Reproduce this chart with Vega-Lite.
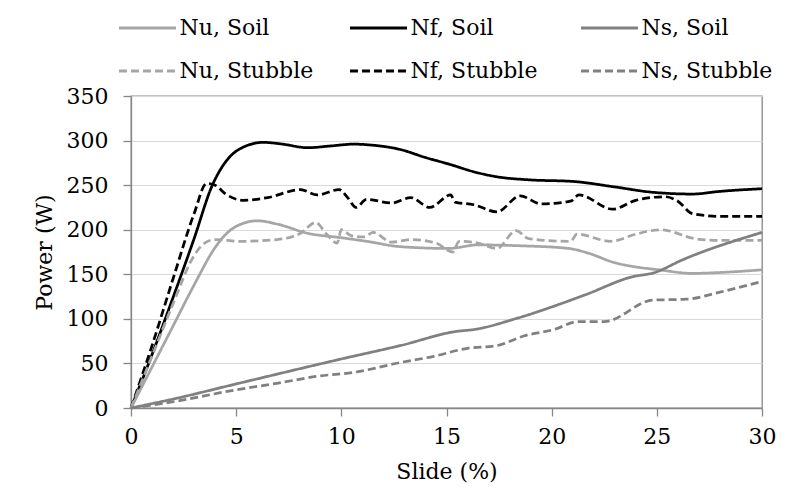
{
  "$schema": "https://vega.github.io/schema/vega-lite/v6.json",
  "width": 631,
  "height": 312,
  "autosize": {"type": "none"},
  "padding": {"left": 131, "top": 96, "right": 24, "bottom": 85},
  "background": "#ffffff",
  "config": {
    "font": "DejaVu Serif",
    "view": {"stroke": "#868686", "strokeWidth": 1.3},
    "axis": {
      "labelFont": "DejaVu Serif",
      "titleFont": "DejaVu Serif",
      "labelFontSize": 22,
      "titleFontSize": 22,
      "labelColor": "#000000",
      "titleColor": "#000000",
      "titleFontWeight": "normal",
      "domainColor": "#868686",
      "domainWidth": 1.3,
      "tickColor": "#868686",
      "tickWidth": 1.3,
      "tickSize": 8,
      "gridColor": "#d9d9d9",
      "gridWidth": 1.2
    },
    "legend": {
      "labelFont": "DejaVu Serif",
      "labelFontSize": 22,
      "labelColor": "#000000"
    }
  },
  "data": {
    "values": [
      {"series": "Nf, Soil", "slide": 0, "power": 0},
      {"series": "Nf, Soil", "slide": 1, "power": 60},
      {"series": "Nf, Soil", "slide": 2, "power": 124},
      {"series": "Nf, Soil", "slide": 3, "power": 190},
      {"series": "Nf, Soil", "slide": 3.85, "power": 249},
      {"series": "Nf, Soil", "slide": 4.56, "power": 278},
      {"series": "Nf, Soil", "slide": 5.2, "power": 291},
      {"series": "Nf, Soil", "slide": 6.3, "power": 298},
      {"series": "Nf, Soil", "slide": 7.2, "power": 296},
      {"series": "Nf, Soil", "slide": 8.4, "power": 292},
      {"series": "Nf, Soil", "slide": 9.5, "power": 294},
      {"series": "Nf, Soil", "slide": 10.6, "power": 296},
      {"series": "Nf, Soil", "slide": 11.4, "power": 295},
      {"series": "Nf, Soil", "slide": 12.8, "power": 290},
      {"series": "Nf, Soil", "slide": 14, "power": 281},
      {"series": "Nf, Soil", "slide": 15.2, "power": 273},
      {"series": "Nf, Soil", "slide": 16.3, "power": 265},
      {"series": "Nf, Soil", "slide": 17.5, "power": 259},
      {"series": "Nf, Soil", "slide": 18.9, "power": 256},
      {"series": "Nf, Soil", "slide": 21.1, "power": 254},
      {"series": "Nf, Soil", "slide": 23, "power": 248},
      {"series": "Nf, Soil", "slide": 24.8, "power": 242},
      {"series": "Nf, Soil", "slide": 26.7, "power": 240},
      {"series": "Nf, Soil", "slide": 28, "power": 243},
      {"series": "Nf, Soil", "slide": 30, "power": 246},

      {"series": "Nf, Stubble", "slide": 0, "power": 0},
      {"series": "Nf, Stubble", "slide": 1, "power": 70},
      {"series": "Nf, Stubble", "slide": 2, "power": 145},
      {"series": "Nf, Stubble", "slide": 3, "power": 218},
      {"series": "Nf, Stubble", "slide": 3.6, "power": 252},
      {"series": "Nf, Stubble", "slide": 4, "power": 250},
      {"series": "Nf, Stubble", "slide": 4.5, "power": 240},
      {"series": "Nf, Stubble", "slide": 5.36, "power": 233},
      {"series": "Nf, Stubble", "slide": 6.5, "power": 236},
      {"series": "Nf, Stubble", "slide": 8.06, "power": 245},
      {"series": "Nf, Stubble", "slide": 8.86, "power": 239},
      {"series": "Nf, Stubble", "slide": 9.9, "power": 245},
      {"series": "Nf, Stubble", "slide": 10.3, "power": 236},
      {"series": "Nf, Stubble", "slide": 10.7, "power": 225},
      {"series": "Nf, Stubble", "slide": 11.2, "power": 234},
      {"series": "Nf, Stubble", "slide": 12.4, "power": 230},
      {"series": "Nf, Stubble", "slide": 13.3, "power": 236},
      {"series": "Nf, Stubble", "slide": 14.2, "power": 225},
      {"series": "Nf, Stubble", "slide": 15.2, "power": 239},
      {"series": "Nf, Stubble", "slide": 15.4, "power": 231},
      {"series": "Nf, Stubble", "slide": 16.3, "power": 228},
      {"series": "Nf, Stubble", "slide": 17.4, "power": 220},
      {"series": "Nf, Stubble", "slide": 18.5, "power": 238},
      {"series": "Nf, Stubble", "slide": 19.5, "power": 229},
      {"series": "Nf, Stubble", "slide": 20.9, "power": 232},
      {"series": "Nf, Stubble", "slide": 21.3, "power": 239},
      {"series": "Nf, Stubble", "slide": 22.9, "power": 223},
      {"series": "Nf, Stubble", "slide": 24, "power": 233},
      {"series": "Nf, Stubble", "slide": 25.4, "power": 237},
      {"series": "Nf, Stubble", "slide": 26, "power": 232},
      {"series": "Nf, Stubble", "slide": 26.7, "power": 218},
      {"series": "Nf, Stubble", "slide": 28, "power": 215},
      {"series": "Nf, Stubble", "slide": 30, "power": 215},

      {"series": "Nu, Soil", "slide": 0, "power": 0},
      {"series": "Nu, Soil", "slide": 1, "power": 46},
      {"series": "Nu, Soil", "slide": 2, "power": 92},
      {"series": "Nu, Soil", "slide": 3, "power": 138},
      {"series": "Nu, Soil", "slide": 4, "power": 180},
      {"series": "Nu, Soil", "slide": 4.6, "power": 197},
      {"series": "Nu, Soil", "slide": 5.2, "power": 206},
      {"series": "Nu, Soil", "slide": 6, "power": 210},
      {"series": "Nu, Soil", "slide": 7, "power": 206},
      {"series": "Nu, Soil", "slide": 8.4, "power": 196},
      {"series": "Nu, Soil", "slide": 10, "power": 191},
      {"series": "Nu, Soil", "slide": 11.2, "power": 187},
      {"series": "Nu, Soil", "slide": 12.8, "power": 181},
      {"series": "Nu, Soil", "slide": 15.1, "power": 179},
      {"series": "Nu, Soil", "slide": 16.5, "power": 183},
      {"series": "Nu, Soil", "slide": 18.5, "power": 182},
      {"series": "Nu, Soil", "slide": 20.8, "power": 179},
      {"series": "Nu, Soil", "slide": 21.7, "power": 174},
      {"series": "Nu, Soil", "slide": 23, "power": 163},
      {"series": "Nu, Soil", "slide": 23.8, "power": 159},
      {"series": "Nu, Soil", "slide": 25.1, "power": 155},
      {"series": "Nu, Soil", "slide": 26.7, "power": 151},
      {"series": "Nu, Soil", "slide": 28, "power": 152},
      {"series": "Nu, Soil", "slide": 30, "power": 155},

      {"series": "Nu, Stubble", "slide": 0, "power": 0},
      {"series": "Nu, Stubble", "slide": 1, "power": 58},
      {"series": "Nu, Stubble", "slide": 2, "power": 117},
      {"series": "Nu, Stubble", "slide": 3, "power": 171},
      {"series": "Nu, Stubble", "slide": 3.5, "power": 185},
      {"series": "Nu, Stubble", "slide": 4, "power": 189},
      {"series": "Nu, Stubble", "slide": 5.2, "power": 187},
      {"series": "Nu, Stubble", "slide": 6.95, "power": 189},
      {"series": "Nu, Stubble", "slide": 8.06, "power": 196},
      {"series": "Nu, Stubble", "slide": 8.78, "power": 208},
      {"series": "Nu, Stubble", "slide": 9.3, "power": 195},
      {"series": "Nu, Stubble", "slide": 9.8, "power": 185},
      {"series": "Nu, Stubble", "slide": 10, "power": 200},
      {"series": "Nu, Stubble", "slide": 10.5, "power": 193},
      {"series": "Nu, Stubble", "slide": 11.1, "power": 192},
      {"series": "Nu, Stubble", "slide": 11.5, "power": 197},
      {"series": "Nu, Stubble", "slide": 12.4, "power": 186},
      {"series": "Nu, Stubble", "slide": 13.3, "power": 189},
      {"series": "Nu, Stubble", "slide": 14.5, "power": 185},
      {"series": "Nu, Stubble", "slide": 15.3, "power": 175},
      {"series": "Nu, Stubble", "slide": 15.6, "power": 187},
      {"series": "Nu, Stubble", "slide": 16.5, "power": 185},
      {"series": "Nu, Stubble", "slide": 17.4, "power": 179},
      {"series": "Nu, Stubble", "slide": 18.3, "power": 199},
      {"series": "Nu, Stubble", "slide": 18.9, "power": 190},
      {"series": "Nu, Stubble", "slide": 20.9, "power": 187},
      {"series": "Nu, Stubble", "slide": 21.2, "power": 195},
      {"series": "Nu, Stubble", "slide": 22.8, "power": 187},
      {"series": "Nu, Stubble", "slide": 24, "power": 195},
      {"series": "Nu, Stubble", "slide": 25.2, "power": 200},
      {"series": "Nu, Stubble", "slide": 26.8, "power": 190},
      {"series": "Nu, Stubble", "slide": 28, "power": 188},
      {"series": "Nu, Stubble", "slide": 30, "power": 188},

      {"series": "Ns, Soil", "slide": 0, "power": 0},
      {"series": "Ns, Soil", "slide": 2, "power": 10},
      {"series": "Ns, Soil", "slide": 5, "power": 27},
      {"series": "Ns, Soil", "slide": 10, "power": 55},
      {"series": "Ns, Soil", "slide": 12.8, "power": 70},
      {"series": "Ns, Soil", "slide": 15.5, "power": 86},
      {"series": "Ns, Soil", "slide": 16.3, "power": 88},
      {"series": "Ns, Soil", "slide": 18.4, "power": 101},
      {"series": "Ns, Soil", "slide": 21.6, "power": 127},
      {"series": "Ns, Soil", "slide": 23.8, "power": 147},
      {"series": "Ns, Soil", "slide": 24.9, "power": 152},
      {"series": "Ns, Soil", "slide": 26.2, "power": 166},
      {"series": "Ns, Soil", "slide": 30, "power": 197},

      {"series": "Ns, Stubble", "slide": 0, "power": 0},
      {"series": "Ns, Stubble", "slide": 2, "power": 7},
      {"series": "Ns, Stubble", "slide": 4.9, "power": 20},
      {"series": "Ns, Stubble", "slide": 7, "power": 28},
      {"series": "Ns, Stubble", "slide": 9, "power": 36},
      {"series": "Ns, Stubble", "slide": 10.6, "power": 40},
      {"series": "Ns, Stubble", "slide": 12.8, "power": 51},
      {"series": "Ns, Stubble", "slide": 14.4, "power": 58},
      {"series": "Ns, Stubble", "slide": 16, "power": 67},
      {"series": "Ns, Stubble", "slide": 17.4, "power": 70},
      {"series": "Ns, Stubble", "slide": 18.7, "power": 81},
      {"series": "Ns, Stubble", "slide": 20.1, "power": 88},
      {"series": "Ns, Stubble", "slide": 21.3, "power": 97},
      {"series": "Ns, Stubble", "slide": 22.5, "power": 97},
      {"series": "Ns, Stubble", "slide": 24.8, "power": 121},
      {"series": "Ns, Stubble", "slide": 26.4, "power": 122},
      {"series": "Ns, Stubble", "slide": 28, "power": 130},
      {"series": "Ns, Stubble", "slide": 30, "power": 142}
    ]
  },
  "mark": {"type": "line", "interpolate": "monotone", "strokeWidth": 2.75},
  "encoding": {
    "x": {
      "field": "slide",
      "type": "quantitative",
      "scale": {"domain": [0, 30], "nice": false},
      "axis": {"values": [0, 5, 10, 15, 20, 25, 30], "grid": false, "title": "Slide (%)", "labelPadding": 10, "titlePadding": 14, "labelFlush": false}
    },
    "y": {
      "field": "power",
      "type": "quantitative",
      "scale": {"domain": [0, 350], "nice": false},
      "axis": {"values": [0, 50, 100, 150, 200, 250, 300, 350], "title": "Power (W)", "labelPadding": 15, "titlePadding": 10}
    },
    "color": {
      "field": "series",
      "type": "nominal",
      "scale": {
        "domain": ["Nu, Soil", "Nf, Soil", "Ns, Soil", "Nu, Stubble", "Nf, Stubble", "Ns, Stubble"],
        "range": ["#a6a6a6", "#000000", "#808080", "#a6a6a6", "#000000", "#808080"]
      },
      "legend": {
        "title": null,
        "orient": "none",
        "direction": "horizontal",
        "legendX": -13.5,
        "legendY": -98,
        "columns": 3,
        "gridAlign": "all",
        "columnPadding": 30,
        "rowPadding": 2,
        "padding": 0,
        "symbolType": "stroke",
        "symbolSize": 3249,
        "symbolStrokeWidth": 3,
        "labelOffset": 2
      }
    },
    "strokeDash": {
      "field": "series",
      "type": "nominal",
      "scale": {
        "domain": ["Nu, Soil", "Nf, Soil", "Ns, Soil", "Nu, Stubble", "Nf, Stubble", "Ns, Stubble"],
        "range": [[1, 0], [1, 0], [1, 0], [8, 4], [8, 4], [8, 4]]
      },
      "legend": {
        "title": null,
        "orient": "none",
        "direction": "horizontal",
        "legendX": -13.5,
        "legendY": -98,
        "columns": 3,
        "gridAlign": "all",
        "columnPadding": 30,
        "rowPadding": 2,
        "padding": 0,
        "symbolType": "stroke",
        "symbolSize": 3249,
        "symbolStrokeWidth": 3,
        "labelOffset": 2
      }
    }
  }
}
